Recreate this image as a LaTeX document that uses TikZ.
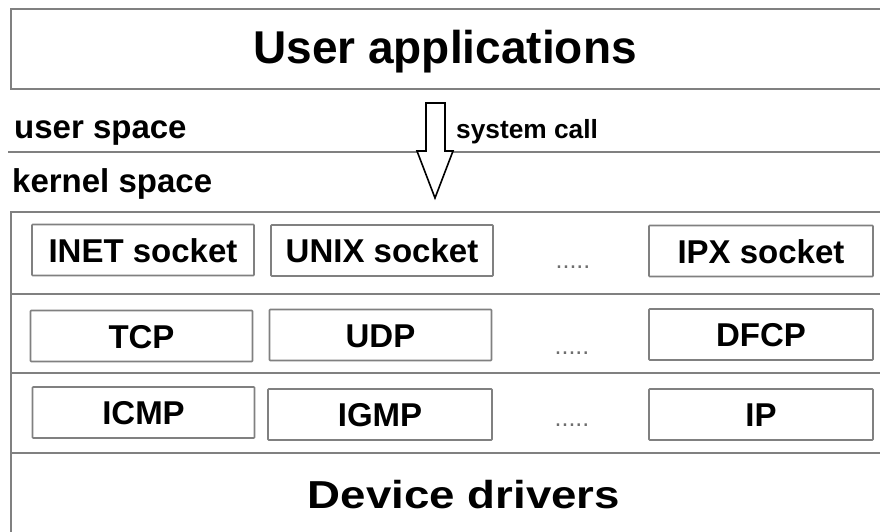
\documentclass[tikz,border=0pt]{standalone}
\usepackage{fontspec}
\setmainfont{Liberation Sans}
\definecolor{frame}{RGB}{128,128,128}
\definecolor{dotgray}{RGB}{110,110,110}
\tikzset{
  frameline/.style={draw=frame, line width=1.8pt},
  layerbox/.style={draw=frame, line width=1.6pt, rounded corners=0.8pt,
    minimum width=222pt, minimum height=51pt, inner sep=0pt,
    text height=24pt, text depth=0pt,
    font=\fontsize{33}{38}\selectfont\bfseries},
  ellipsis/.style={anchor=base, text=dotgray, inner sep=0pt,
    font=\fontsize{25}{28}\selectfont},
  spacelabel/.style={anchor=base west, inner sep=0pt,
    font=\fontsize{33}{37}\selectfont\bfseries},
  bigtitle/.style={anchor=base, inner sep=0pt},
}
\begin{document}
\begin{tikzpicture}[x=1pt, y=-1pt]
\useasboundingbox (0,0) rectangle (880,531);

% user-space block
\draw[frameline] (886,9) -- (11,9) -- (11,89) -- (886,89);
\node[bigtitle, font=\fontsize{46}{53}\selectfont\bfseries] (apps) at (445,63) {User applications};

% user / kernel boundary
\draw[frameline] (8,152) -- (886,152);
\node[spacelabel] (user) at (14,138) {user space};
\node[spacelabel] (kernel) at (12,192) {kernel space};

% system call arrow
\draw[black, line width=1.6pt, fill=white, line join=miter]
  (426,103) -- (445,103) -- (445,151) -- (453,151) -- (435,198)
  -- (417,151) -- (426,151) -- cycle;
\node[anchor=base west, inner sep=0pt, font=\fontsize{26.3}{30}\selectfont\bfseries]
  (syscall) at (456,138) {system call};

% kernel block with its layers
\draw[frameline] (886,212) -- (11,212) -- (11,540);
\draw[frameline] (11,294) -- (886,294);
\draw[frameline] (11,373) -- (886,373);
\draw[frameline] (11,453) -- (886,453);

% socket layer
\node[layerbox] (inet) at (143,250) {INET socket};
\node[layerbox] (unix) at (382,250.5) {UNIX socket};
\node[ellipsis] (dots1) at (573,268) {.....};
\node[layerbox, minimum width=224pt] (ipx) at (761,251) {IPX socket};

% transport layer
\node[layerbox] (tcp) at (141.5,336) {TCP};
\node[layerbox] (udp) at (380.5,335) {UDP};
\node[ellipsis] (dots2) at (572,354) {.....};
\node[layerbox, minimum width=224pt] (dfcp) at (761,334.5) {DFCP};

% network layer
\node[layerbox] (icmp) at (143.5,412.5) {ICMP};
\node[layerbox, minimum width=224pt] (igmp) at (380,414.5) {IGMP};
\node[ellipsis] (dots3) at (572,426) {.....};
\node[layerbox, minimum width=224pt] (ip) at (761,414.5) {IP};

% driver layer
\node[bigtitle] (drivers) at (464,508)
  {\fontsize{39}{46}\selectfont\bfseries\scalebox{1.17}[1]{Device drivers}};
\end{tikzpicture}
\end{document}
